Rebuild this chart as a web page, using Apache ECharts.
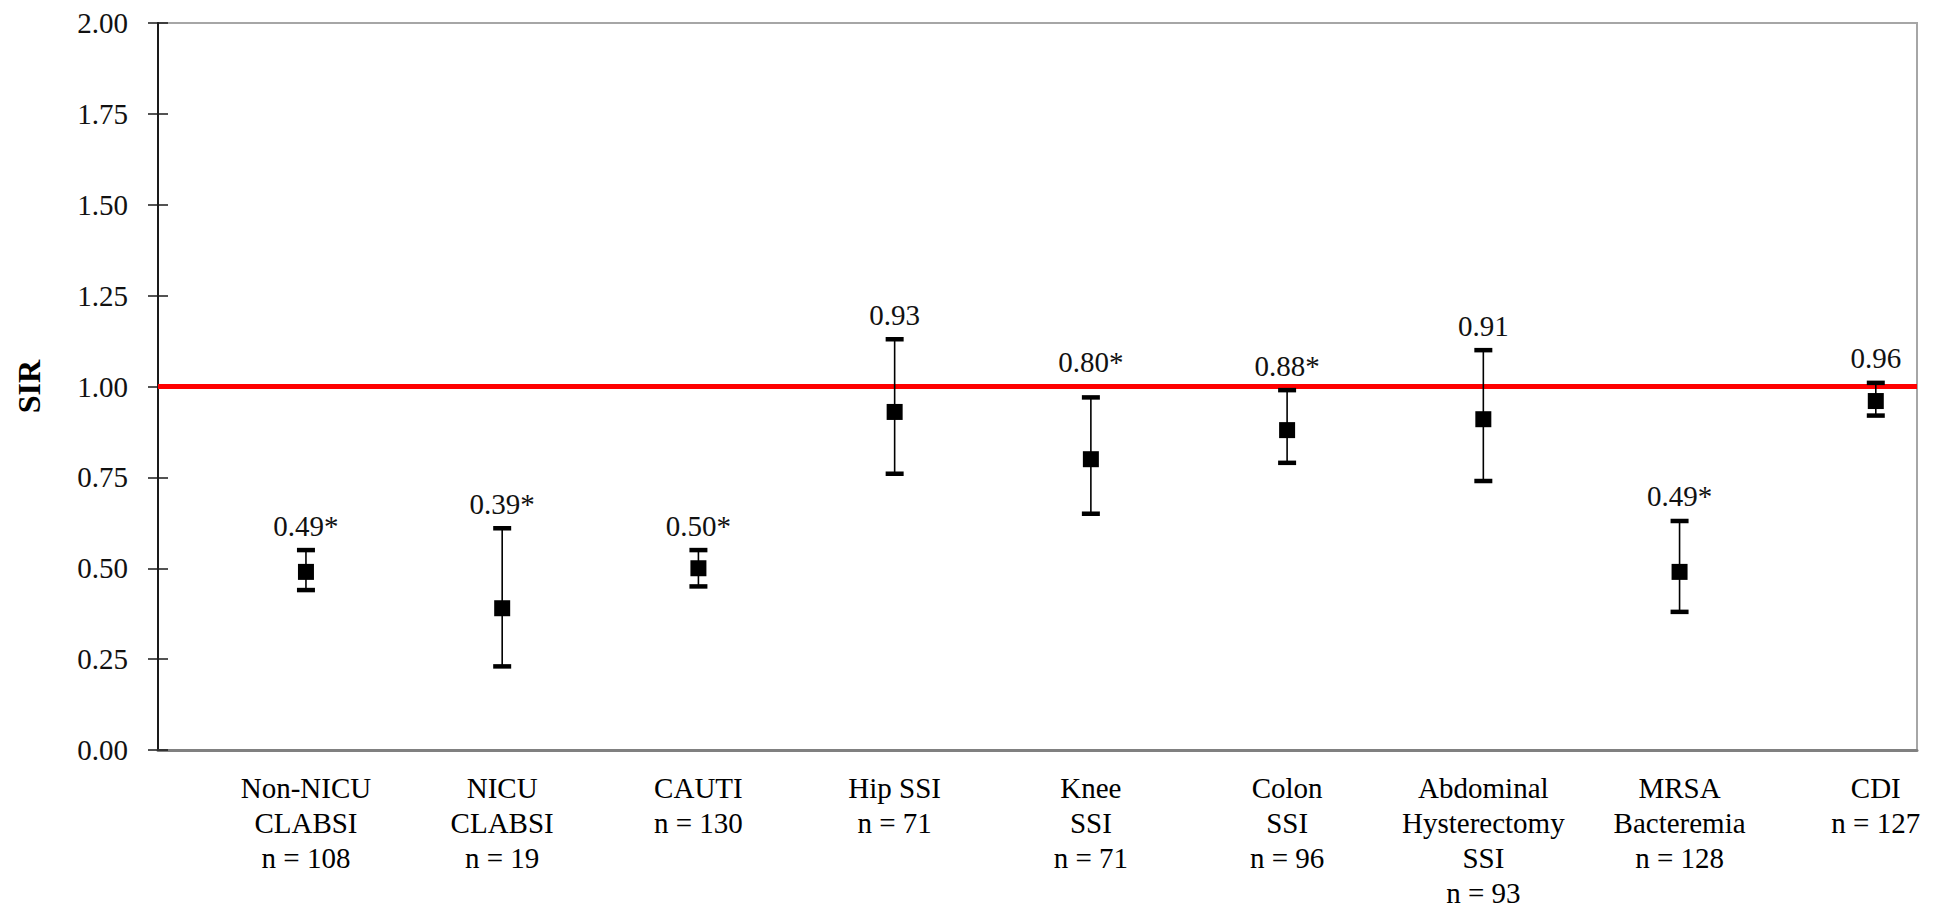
<!DOCTYPE html>
<html><head><meta charset="utf-8">
<script src="https://cdn.jsdelivr.net/npm/echarts@6/dist/echarts.min.js"></script>
<style>html,body{margin:0;padding:0;background:#fff}#c{width:1935px;height:910px}</style>
</head><body><div id="c"></div>
<script>
const categories = ['Non-NICU\nCLABSI', 'NICU\nCLABSI', 'CAUTI', 'Hip SSI', 'Knee\nSSI', 'Colon\nSSI', 'Abdominal\nHysterectomy\nSSI', 'MRSA\nBacteremia', 'CDI'];
const nCounts = [108, 19, 130, 71, 71, 96, 93, 128, 127];
const sir = [0.49, 0.39, 0.50, 0.93, 0.80, 0.88, 0.91, 0.49, 0.96];
const ciLower = [0.44, 0.23, 0.45, 0.76, 0.65, 0.79, 0.74, 0.38, 0.92];
const ciUpper = [0.55, 0.61, 0.55, 1.13, 0.97, 0.99, 1.10, 0.63, 1.01];
const significant = [true, true, true, false, true, true, false, true, false];
const referenceValue = 1.0;

const FONT = 'Liberation Serif';
const chart = echarts.init(document.getElementById('c'), null, {renderer: 'svg'});

const xMin = -0.754, xMax = 8.21;
const catIdx = categories.map((_, i) => i);

chart.setOption({
  animation: false,
  backgroundColor: '#fff',
  textStyle: {fontFamily: FONT},
  grid: {left: 158, right: 18, top: 23, bottom: 153, show: true, borderColor: '#a6a6a6', borderWidth: 2},
  xAxis: {
    type: 'value', min: xMin, max: xMax,
    splitLine: {show: false},
    axisLine: {show: true, onZero: false, lineStyle: {color: '#808080', width: 3}},
    axisTick: {show: false},
    axisLabel: {
      customValues: catIdx,
      formatter: v => { const i = Math.round(v); return categories[i] + '\nn = ' + nCounts[i]; },
      fontFamily: FONT, fontSize: 29, color: '#000', lineHeight: 35,
      verticalAlign: 'top', margin: 20
    }
  },
  yAxis: [{
    type: 'value', min: 0, max: 2, interval: 0.25,
    name: 'SIR', nameLocation: 'middle', nameGap: 113,
    nameTextStyle: {fontFamily: FONT, fontSize: 32, fontWeight: 'bold', color: '#000'},
    splitLine: {show: false},
    axisLine: {show: true, onZero: false, lineStyle: {color: '#1a1a1a', width: 2}},
    axisTick: {show: true, inside: false, length: 10, lineStyle: {color: '#1a1a1a', width: 1.5}},
    axisLabel: {formatter: v => v.toFixed(2), fontFamily: FONT, fontSize: 29, color: '#111', margin: 30}
  }, {
    type: 'value', min: 0, max: 2, interval: 0.25, position: 'right', offset: -1759,
    splitLine: {show: false},
    axisLine: {show: false, onZero: false},
    axisTick: {show: true, inside: false, length: 10, lineStyle: {color: '#1a1a1a', width: 1.5}},
    axisLabel: {show: false}
  }],
  series: [{
    type: 'custom',
    data: catIdx.map(i => [i, ciLower[i], ciUpper[i]]),
    z: 3,
    renderItem: (params, api) => {
      const i = params.dataIndex;
      const x = api.value(0);
      const lo = api.coord([x, api.value(1)]);
      const hi = api.coord([x, api.value(2)]);
      const refY = api.coord([x, referenceValue])[1];
      const capW = 18, capH = 4.5;
      let ty = hi[1] - 10;
      // keep the value label clear of the reference line
      if (ty > refY - 5 && ty - 29 < refY + 3) ty = refY - 10;
      return {type: 'group', children: [
        {type: 'line', shape: {x1: hi[0], y1: hi[1], x2: lo[0], y2: lo[1]}, style: {stroke: '#000', lineWidth: 1.6}},
        {type: 'rect', shape: {x: hi[0] - capW / 2, y: hi[1] - capH / 2, width: capW, height: capH}, style: {fill: '#000'}},
        {type: 'rect', shape: {x: lo[0] - capW / 2, y: lo[1] - capH / 2, width: capW, height: capH}, style: {fill: '#000'}},
        {type: 'text', style: {text: sir[i].toFixed(2) + (significant[i] ? '*' : ''), x: hi[0], y: ty,
          align: 'center', verticalAlign: 'bottom', fontFamily: FONT, fontSize: 29, fill: '#111'}}
      ]};
    }
  }, {
    type: 'scatter',
    data: catIdx.map(i => [i, sir[i]]),
    symbol: 'rect', symbolSize: 16,
    itemStyle: {color: '#000', opacity: 1},
    z: 4,
    markLine: {
      silent: true, symbol: 'none', z: 2,
      label: {show: false},
      lineStyle: {color: '#ff0000', width: 5, type: 'solid', opacity: 1},
      data: [{yAxis: referenceValue}]
    }
  }]
});
</script></body></html>
